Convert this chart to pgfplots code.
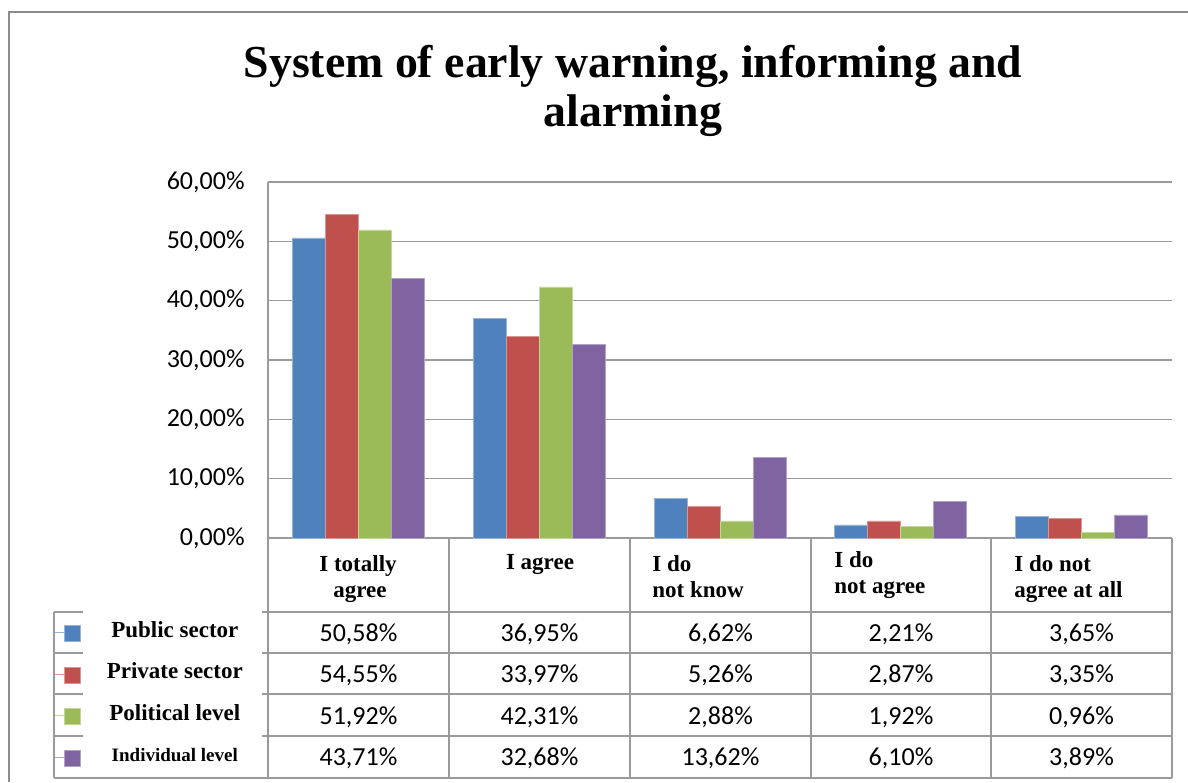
\documentclass[border=0pt]{standalone}
\usepackage{pgfplots}
\pgfplotsset{compat=1.18}
\usepackage{fontspec}
\setmainfont{Liberation Serif}
\newfontfamily\calibri{Carlito}

\definecolor{cBlue}{HTML}{4F81BD}
\definecolor{cRed}{HTML}{C0504D}
\definecolor{cGreen}{HTML}{9BBB59}
\definecolor{cPurple}{HTML}{8064A2}
\definecolor{frame}{HTML}{8C8C8C}
\definecolor{rule}{HTML}{9A9A9A}

% legend text cell: fixed width, centred in the first column of the data table
\newcommand\lgd[2][11.5]{\makebox[94pt]{\fontsize{#1}{#1}\selectfont\bfseries #2}}
% one row of values in the data table (y = baseline in px)
\newcommand\tabrow[6]{%
  \node at (358.5,#1) {#2};
  \node at (539.5,#1) {#3};
  \node at (720.5,#1) {#4};
  \node at (901,#1) {#5};
  \node at (1081.5,#1) {#6};}

\begin{document}
\begin{tikzpicture}
\begin{scope}[x=0.5pt,y=-0.5pt]
  \useasboundingbox (0,0) rectangle (1188,782);
  \fill[white] (0,0) rectangle (1188,782);
  \draw[frame, line width=1.2pt] (9,782) -- (9,12) -- (1188,12);
  \node[font=\fontsize{22.9}{26}\selectfont\bfseries, anchor=base, inner sep=0pt] at (633,77) {System of early warning, informing and};
  \node[font=\fontsize{22.9}{26}\selectfont\bfseries, anchor=base, inner sep=0pt] at (633,126) {alarming};
\end{scope}

\begin{axis}[
  at={(134pt,-269pt)}, anchor=south west,
  width=452pt, height=178pt, scale only axis,
  ybar=0pt, bar width=16.5pt,
  xmin=0.5, xmax=5.5, ymin=0, ymax=60,
  xtick=\empty,
  ytick={0,10,...,60},
  yticklabels={{0,00\%},{10,00\%},{20,00\%},{30,00\%},{40,00\%},{50,00\%},{60,00\%}},
  /pgf/number format/assume math mode=true,
  yticklabel style={font=\calibri\fontsize{13}{15}\selectfont, inner sep=0pt, anchor=east, xshift=-11.5pt},
  axis x line*=bottom, axis y line*=left,
  axis line style={rule, line width=0.6pt},
  major tick length=0pt,
  ymajorgrids, grid style={rule, line width=0.6pt},
  every axis plot post/.append style={
    line width=0.4pt,
    legend image code/.code={
      \path (0pt,0pt) -- (13pt,0pt);
      \fill[##1] (5pt,-4.5pt) rectangle (13pt,3.5pt);
    }},
  legend style={at={(-0.2367,-0.2079)}, anchor=north west, draw=none, fill=none,
    inner sep=0pt, outer sep=0pt, row sep=0pt, column sep=0pt,
    nodes={inner sep=0pt, outer sep=0pt, text height=12.5pt, text depth=8.25pt},
    /tikz/every even column/.append style={column sep=0pt}},
]
\addplot[fill=cBlue, draw=cBlue!60!white] coordinates {(1,50.58) (2,36.95) (3,6.62) (4,2.21) (5,3.65)};
\addlegendentry{\lgd{Public sector}}
\addplot[fill=cRed, draw=cRed!60!white] coordinates {(1,54.55) (2,33.97) (3,5.26) (4,2.87) (5,3.35)};
\addlegendentry{\lgd{Private sector}}
\addplot[fill=cGreen, draw=cGreen!60!white] coordinates {(1,51.92) (2,42.31) (3,2.88) (4,1.92) (5,0.96)};
\addlegendentry{\lgd{Political level}}
\addplot[fill=cPurple, draw=cPurple!60!white] coordinates {(1,43.71) (2,32.68) (3,13.62) (4,6.10) (5,3.89)};
\addlegendentry{\lgd[9.5]{Individual level}}
\end{axis}

% data table below the axis
\begin{scope}[x=0.5pt,y=-0.5pt]
  \begin{scope}[rule, line width=0.6pt]
    \foreach \xx in {268,449,630,811,991,1172} \draw (\xx,538) -- (\xx,778);
    \draw (54,612) -- (54,778);
    \foreach \yy in {612,653,694,736} {
      \draw (54,\yy) -- (83,\yy);
      \draw (262,\yy) -- (1172,\yy);
    }
    \draw (54,778) -- (1172,778);
  \end{scope}
  \begin{scope}[every node/.style={font=\fontsize{11.5}{13}\selectfont\bfseries, inner sep=0pt}]
    \node[anchor=base] at (358,571) {I totally};
    \node[anchor=base] at (360,597) {agree};
    \node[anchor=base] at (540,569) {I agree};
    \node[anchor=base west] at (652,571) {I do};
    \node[anchor=base west] at (652,597) {not know};
    \node[anchor=base west] at (834,567) {I do};
    \node[anchor=base west] at (834,593) {not agree};
    \node[anchor=base west] at (1014,571) {I do not};
    \node[anchor=base west] at (1014,597) {agree at all};
  \end{scope}
  \begin{scope}[every node/.style={font=\calibri\fontsize{13}{15}\selectfont, inner sep=0pt, anchor=base}]
    \tabrow{641}{50,58\%}{36,95\%}{6,62\%}{2,21\%}{3,65\%}
    \tabrow{682.5}{54,55\%}{33,97\%}{5,26\%}{2,87\%}{3,35\%}
    \tabrow{724}{51,92\%}{42,31\%}{2,88\%}{1,92\%}{0,96\%}
    \tabrow{765.5}{43,71\%}{32,68\%}{13,62\%}{6,10\%}{3,89\%}
  \end{scope}
\end{scope}
\end{tikzpicture}
\end{document}
